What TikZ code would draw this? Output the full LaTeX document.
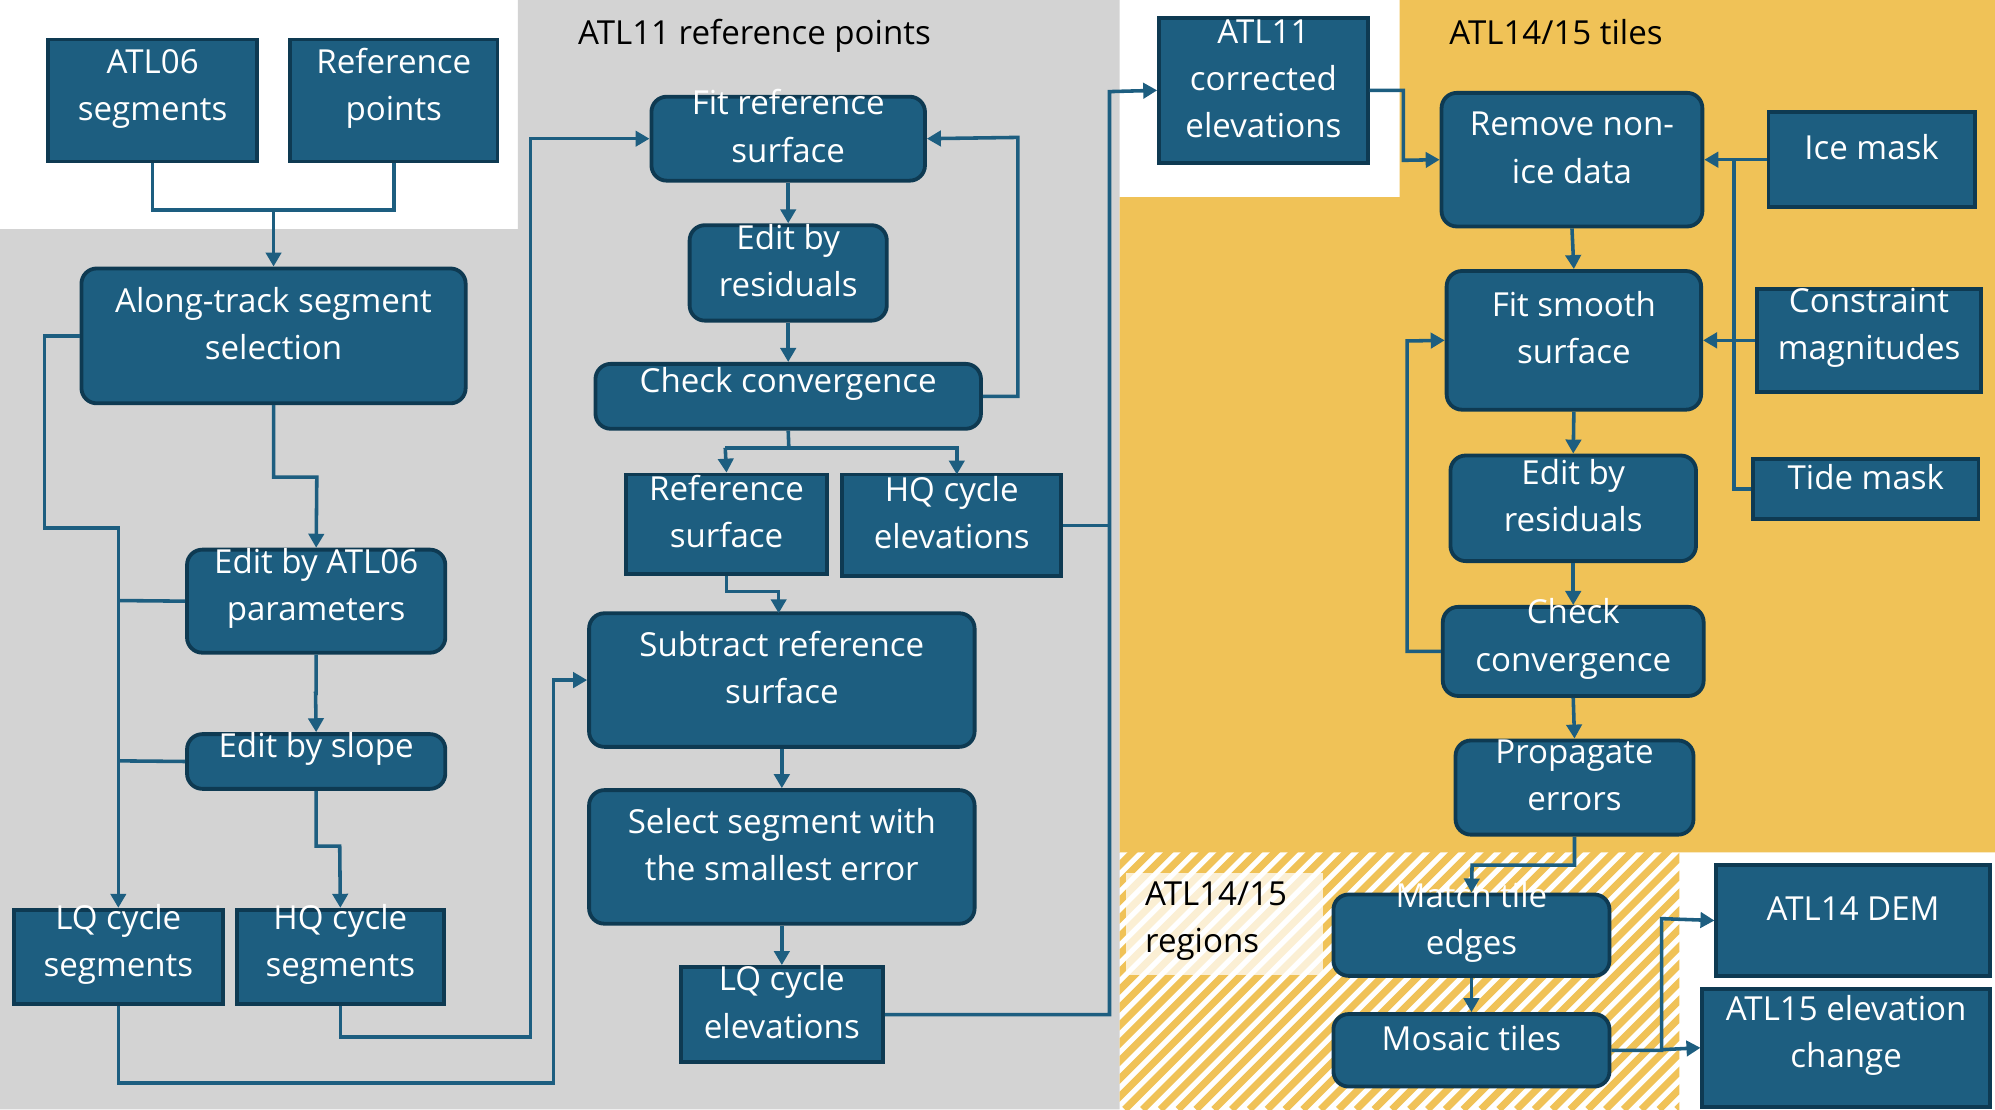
\documentclass[tikz,border=0pt]{standalone}
\usepackage{fontspec}
\setmainfont{Open Sans}
\usetikzlibrary{arrows.meta,fit}
\definecolor{boxfill}{HTML}{1D5E80}
\definecolor{boxline}{HTML}{0E3A52}
\definecolor{conn}{HTML}{1D5E80}
\definecolor{grayb}{HTML}{D3D3D3}
\definecolor{orangeb}{HTML}{F0C257}
\tikzset{
 base/.style={draw=boxline,line width=1.5pt,fill=boxfill,text=white,align=center,inner sep=0pt,font=\fontsize{13}{18.5}\selectfont},
 sq/.style={base},
 rd/.style={base,rounded corners=6pt},
 ar/.style={draw=conn,line width=1.4pt,-{Triangle[width=6pt,length=5.5pt]}},
 ln/.style={draw=conn,line width=1.4pt},
 lbl/.style={font=\fontsize{13}{18.5}\selectfont,text=black}
}
\newcommand\mk[7]{\node[#1,fit={(#3,#4)(#5,#6)}] (#2) {#7};}
\begin{document}
\begin{tikzpicture}[x=0.5pt,y=-0.5pt]
\useasboundingbox (0,0) rectangle (1568,872);
\fill[white] (0,0) rectangle (1568,872);
\fill[grayb] (0,180) -- (407,180) -- (407,0) -- (880,0) -- (880,872) -- (0,872) -- cycle;
\fill[orangeb] (880,155) -- (1100,155) -- (1100,0) -- (1568,0) -- (1568,670) -- (880,670) -- cycle;
\begin{scope}
\clip (880,670) rectangle (1320,872);
\foreach \i in {0,14,...,700} {\draw[orangeb,line width=2.8pt] (880+\i-220,872) -- (880+\i,652);}
\end{scope}
\fill[white,opacity=0.75] (885,686) rectangle (1040,766);
\node[lbl] at (593,28) {ATL11 reference points};
\node[lbl] at (1223,25) {ATL14/15 tiles};
\node[lbl,anchor=west,align=left] at (893,724) {ATL14/15\\regions};
% left
\mk{sq}{atl06}{38}{31}{202}{127}{ATL06\\segments}
\mk{sq}{refp}{228}{31}{391}{127}{Reference\\points}
\mk{rd}{along}{64}{211}{366}{317}{Along-track segment\\selection}
\mk{rd}{eatl}{147}{432}{350}{513}{Edit by ATL06\\parameters}
\mk{rd}{eslope}{147}{577}{350}{620}{Edit by slope}
\mk{sq}{lqs}{11}{715}{175}{789}{LQ cycle\\segments}
\mk{sq}{hqs}{186}{715}{349}{789}{HQ cycle\\segments}
% middle
\mk{rd}{fitref}{512}{76}{727}{142}{Fit reference\\surface}
\mk{rd}{eres}{542}{177}{697}{252}{Edit by\\residuals}
\mk{rd}{chk}{468}{286}{771}{337}{Check convergence}
\mk{sq}{refs}{492}{373}{650}{451}{Reference\\surface}
\mk{sq}{hqe}{662}{373}{834}{453}{HQ cycle\\elevations}
\mk{rd}{sub}{463}{482}{766}{587}{Subtract reference\\surface}
\mk{rd}{sel}{463}{621}{766}{726}{Select segment with\\the smallest error}
\mk{sq}{lqe}{535}{760}{694}{835}{LQ cycle\\elevations}
% right
\mk{sq}{atl11}{911}{14}{1075}{128}{ATL11\\corrected\\elevations}
\mk{rd}{rem}{1133}{73}{1338}{178}{Remove non-\\ice data}
\mk{sq}{ice}{1390}{88}{1552}{163}{Ice mask}
\mk{rd}{fits}{1137}{213}{1337}{322}{Fit smooth\\surface}
\mk{sq}{cons}{1381}{227}{1557}{308}{Constraint\\magnitudes}
\mk{sq}{tide}{1378}{361}{1555}{408}{Tide mask}
\mk{rd}{eres2}{1140}{358}{1333}{441}{Edit by\\residuals}
\mk{rd}{chk2}{1134}{477}{1339}{547}{Check\\convergence}
\mk{rd}{prop}{1144}{582}{1331}{656}{Propagate\\errors}
\mk{rd}{match}{1048}{703}{1265}{767}{Match tile\\edges}
\mk{rd}{mosaic}{1048}{797}{1265}{854}{Mosaic tiles}
\mk{sq}{dem}{1349}{680}{1564}{767}{ATL14 DEM}
\mk{sq}{dh}{1338}{777}{1564}{870}{ATL15 elevation\\change}
% connectors left
\coordinate (j1) at (215,165);
\draw[ln] (atl06.south) |- (j1);
\draw[ln] (refp.south) |- (j1);
\draw[ar] (j1) -- (along.north);
\draw[ar] (along.south) |- (249,375) -- (eatl.north);
\draw[ln] (along.west) -| (35,415) -| (93,700);
\draw[ar] (93,415) -- (lqs.north);
\draw[ln] (eatl.west) -- (93,472);
\draw[ln] (eslope.west) -- (93,598);
\draw[ar] (eatl.south) |- (248,545) -- (eslope.north);
\draw[ar] (eslope.south) |- (267,665) -- (hqs.north);
\draw[ar] (hqs.south) |- (417,815) |- (fitref.west);
\draw[ar] (lqs.south) |- (435,851) |- (sub.west);
% middle
\draw[ar] (fitref.south) -- (eres.north);
\draw[ar] (eres.south) -- (chk.north);
\draw[ar] (chk.east) -| (800,108) -- (fitref.east);
\draw[ln] (chk.south) -- (620,352);
\draw[ar] (570,352) -- (refs.north);
\draw[ar] (570,352) -| (752,373);
\draw[ln] (570,352) -- (752,352);
\draw[ar] (refs.south) |- (612,465) -- (612,482);
\draw[ar] (sub.south) -- (sel.north);
\draw[ar] (sel.south) -- (lqe.north);
\draw[ln] (hqe.east) -- (872,413);
\draw[ar] (lqe.east) -| (872,72) -- (atl11.west);
% right
\draw[ar] (atl11.east) -| (1103,126) -- (rem.west);
\draw[ar] (ice.west) -- (rem.east);
\draw[ln] (1363,126) |- (tide.west);
\draw[ar] (cons.west) -- (fits.east);
\draw[ar] (rem.south) -- (fits.north);
\draw[ar] (fits.south) -- (eres2.north);
\draw[ar] (eres2.south) -- (chk2.north);
\draw[ar] (chk2.south) -- (prop.north);
\draw[ar] (chk2.west) -| (1106,268) -- (fits.west);
\draw[ar] (prop.south) |- (1157,680) -- (match.north);
\draw[ar] (match.south) -- (mosaic.north);
\draw[ar] (mosaic.east) -| (1306,722) -- (dem.west);
\draw[ar] (1306,825) -- (dh.west);
\end{tikzpicture}
\end{document}
